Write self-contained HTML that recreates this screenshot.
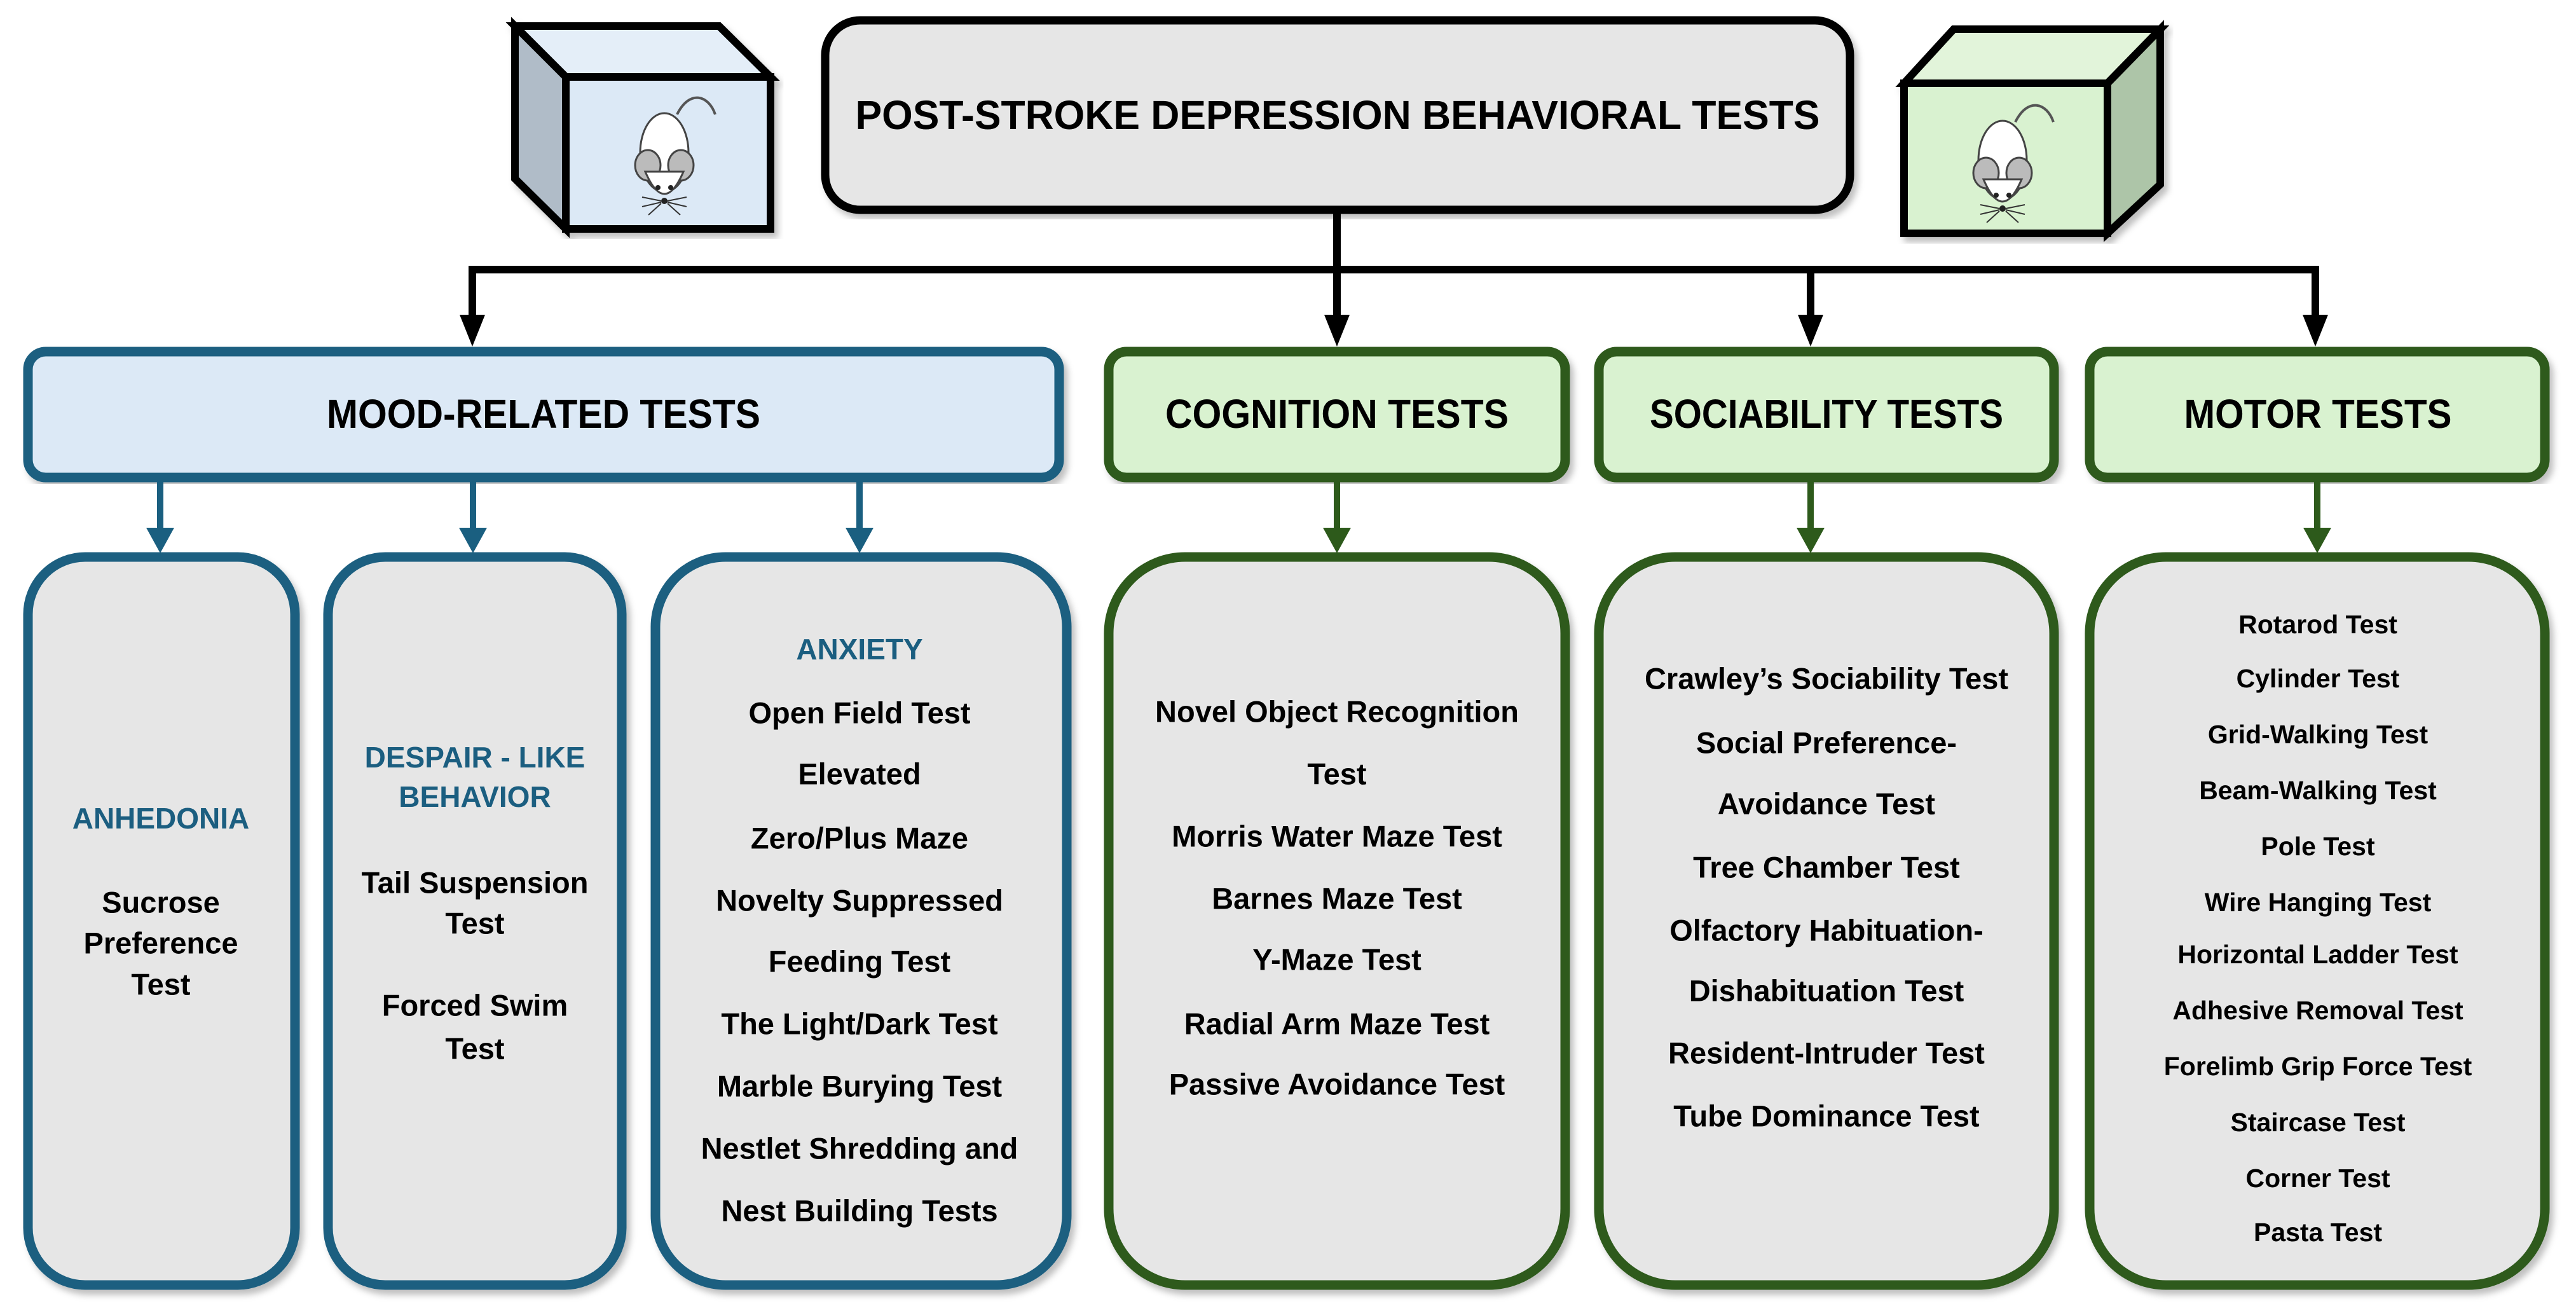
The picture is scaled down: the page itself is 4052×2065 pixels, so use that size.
<!DOCTYPE html>
<html><head><meta charset="utf-8"><style>
html,body{margin:0;padding:0;background:#fff;}
svg{display:block;}
text{font-family:"Liberation Sans",sans-serif;font-weight:bold;text-anchor:middle;dominant-baseline:central;}
.b{font-size:47px;fill:#000;}
.t{font-size:46px;fill:#1b5e80;}
.m{font-size:41px;fill:#000;}
.h{font-size:64px;fill:#000;}
</style></head><body>
<svg width="4052" height="2065" viewBox="0 0 4052 2065" xmlns="http://www.w3.org/2000/svg">
<defs>
<filter id="sh" x="-5%" y="-5%" width="110%" height="110%"><feDropShadow dx="6" dy="8" stdDeviation="5" flood-color="#000" flood-opacity="0.25"/></filter>
<g id="mouse">
 <path d="M20,-70 C40,-110 70,-100 80,-70" fill="none" stroke="#555" stroke-width="4"/>
 <ellipse cx="0" cy="-10" rx="38" ry="62" fill="#fff" stroke="#444" stroke-width="3"/>
 <ellipse cx="-26" cy="10" rx="20" ry="24" fill="#bbb" stroke="#444" stroke-width="3"/>
 <ellipse cx="26" cy="10" rx="20" ry="24" fill="#bbb" stroke="#444" stroke-width="3"/>
 <path d="M-30,20 Q0,90 30,20 Z" fill="#fff" stroke="#444" stroke-width="3"/>
 <circle cx="-10" cy="45" r="4" fill="#222"/><circle cx="10" cy="45" r="4" fill="#222"/>
 <circle cx="0" cy="66" r="5" fill="#222"/>
 <path d="M-5,66 L-35,60 M-5,68 L-35,75 M-5,70 L-25,88 M5,66 L35,60 M5,68 L35,75 M5,70 L25,88" stroke="#333" stroke-width="2" fill="none"/>
</g>
</defs>

<g filter="url(#sh)" stroke="#000" stroke-width="12" stroke-linejoin="miter">
 <polygon points="810,41 1131,41 1212,121 890,121" fill="#e4eef8"/>
 <polygon points="810,41 890,121 890,360 810,281" fill="#b0bcc8"/>
 <rect x="890" y="121" width="322" height="239" fill="#dce9f6"/>
</g>
<use href="#mouse" x="1045" y="250"/>

<g filter="url(#sh)" stroke="#000" stroke-width="12" stroke-linejoin="miter">
 <polygon points="3073,46 3398,46 3315,131 2995,131" fill="#e2f4da"/>
 <polygon points="3398,46 3398,290 3315,367 3315,131" fill="#adc5a8"/>
 <rect x="2995" y="131" width="320" height="236" fill="#d9f2d0"/>
</g>
<use href="#mouse" x="3150" y="262"/>

<rect x="1298" y="32" width="1612" height="298" rx="55" fill="#e6e6e6" stroke="#000" stroke-width="13" filter="url(#sh)"/>
<text class="h" x="2104" y="181" textLength="1517" lengthAdjust="spacingAndGlyphs">POST-STROKE DEPRESSION BEHAVIORAL TESTS</text>

<g stroke="#000" stroke-width="12" fill="none">
 <line x1="2103" y1="336" x2="2103" y2="500"/>
 <line x1="737" y1="424" x2="3648" y2="424"/>
 <line x1="743" y1="418" x2="743" y2="500"/>
 <line x1="2848" y1="424" x2="2848" y2="500"/>
 <line x1="3642" y1="418" x2="3642" y2="500"/>
</g>
<g fill="#000">
 <polygon points="723,495 763,495 743,545"/>
 <polygon points="2083,495 2123,495 2103,545"/>
 <polygon points="2828,495 2868,495 2848,545"/>
 <polygon points="3622,495 3662,495 3642,545"/>
</g>

<g stroke-width="15" filter="url(#sh)">
 <rect x="44" y="553" width="1622" height="198" rx="28" fill="#dce9f6" stroke="#1a5f80"/>
 <rect x="1744" y="553" width="718" height="198" rx="28" fill="#d9f2d0" stroke="#2d5a1b"/>
 <rect x="2515" y="553" width="716" height="198" rx="28" fill="#d9f2d0" stroke="#2d5a1b"/>
 <rect x="3287" y="553" width="716" height="198" rx="28" fill="#d9f2d0" stroke="#2d5a1b"/>
</g>
<text class="h" x="855" y="651" textLength="682" lengthAdjust="spacingAndGlyphs">MOOD-RELATED TESTS</text>
<text class="h" x="2103" y="651" textLength="540" lengthAdjust="spacingAndGlyphs">COGNITION TESTS</text>
<text class="h" x="2873" y="651" textLength="556" lengthAdjust="spacingAndGlyphs">SOCIABILITY TESTS</text>
<text class="h" x="3646" y="651" textLength="421" lengthAdjust="spacingAndGlyphs">MOTOR TESTS</text>

<g stroke-width="10">
 <line x1="252" y1="756" x2="252" y2="835" stroke="#1a5f80"/>
 <line x1="744" y1="756" x2="744" y2="835" stroke="#1a5f80"/>
 <line x1="1352" y1="756" x2="1352" y2="835" stroke="#1a5f80"/>
 <line x1="2103" y1="756" x2="2103" y2="835" stroke="#2d5a1b"/>
 <line x1="2848" y1="756" x2="2848" y2="835" stroke="#2d5a1b"/>
 <line x1="3645" y1="756" x2="3645" y2="835" stroke="#2d5a1b"/>
</g>
<g fill="#1a5f80">
 <polygon points="230,830 274,830 252,870"/>
 <polygon points="722,830 766,830 744,870"/>
 <polygon points="1330,830 1374,830 1352,870"/>
</g>
<g fill="#2d5a1b">
 <polygon points="2081,830 2125,830 2103,870"/>
 <polygon points="2826,830 2870,830 2848,870"/>
 <polygon points="3623,830 3667,830 3645,870"/>
</g>

<g stroke-width="15" fill="#e6e6e6" filter="url(#sh)">
 <rect x="44" y="876" width="420" height="1145" rx="90" stroke="#1a5f80"/>
 <rect x="516" y="876" width="462" height="1145" rx="90" stroke="#1a5f80"/>
 <rect x="1031" y="876" width="647" height="1145" rx="110" stroke="#1a5f80"/>
 <rect x="1744" y="876" width="718" height="1145" rx="120" stroke="#2d5a1b"/>
 <rect x="2515" y="876" width="716" height="1145" rx="120" stroke="#2d5a1b"/>
 <rect x="3287" y="876" width="716" height="1145" rx="120" stroke="#2d5a1b"/>
</g>

<text class="t" x="253" y="1287">ANHEDONIA</text>
<text class="b" x="253" y="1419">Sucrose</text>
<text class="b" x="253" y="1483">Preference</text>
<text class="b" x="253" y="1548">Test</text>

<text class="t" x="747" y="1191">DESPAIR - LIKE</text>
<text class="t" x="747" y="1253">BEHAVIOR</text>
<text class="b" x="747" y="1388">Tail Suspension</text>
<text class="b" x="747" y="1452">Test</text>
<text class="b" x="747" y="1581">Forced Swim</text>
<text class="b" x="747" y="1649">Test</text>

<text class="t" x="1352" y="1021">ANXIETY</text>
<text class="b" x="1352" y="1121">Open Field Test</text>
<text class="b" x="1352" y="1217">Elevated</text>
<text class="b" x="1352" y="1318">Zero/Plus Maze</text>
<text class="b" x="1352" y="1416">Novelty Suppressed</text>
<text class="b" x="1352" y="1512">Feeding Test</text>
<text class="b" x="1352" y="1610">The Light/Dark Test</text>
<text class="b" x="1352" y="1708">Marble Burying Test</text>
<text class="b" x="1352" y="1806">Nestlet Shredding and</text>
<text class="b" x="1352" y="1904">Nest Building Tests</text>

<text class="b" x="2103" y="1119">Novel Object Recognition</text>
<text class="b" x="2103" y="1217">Test</text>
<text class="b" x="2103" y="1315">Morris Water Maze Test</text>
<text class="b" x="2103" y="1413">Barnes Maze Test</text>
<text class="b" x="2103" y="1509">Y-Maze Test</text>
<text class="b" x="2103" y="1610">Radial Arm Maze Test</text>
<text class="b" x="2103" y="1705">Passive Avoidance Test</text>

<text class="b" x="2873" y="1067">Crawley’s Sociability Test</text>
<text class="b" x="2873" y="1168">Social Preference-</text>
<text class="b" x="2873" y="1264">Avoidance Test</text>
<text class="b" x="2873" y="1364">Tree Chamber Test</text>
<text class="b" x="2873" y="1463">Olfactory Habituation-</text>
<text class="b" x="2873" y="1558">Dishabituation Test</text>
<text class="b" x="2873" y="1656">Resident-Intruder Test</text>
<text class="b" x="2873" y="1755">Tube Dominance Test</text>

<text class="m" x="3646" y="982">Rotarod Test</text>
<text class="m" x="3646" y="1067">Cylinder Test</text>
<text class="m" x="3646" y="1155">Grid-Walking Test</text>
<text class="m" x="3646" y="1243">Beam-Walking Test</text>
<text class="m" x="3646" y="1331">Pole Test</text>
<text class="m" x="3646" y="1419">Wire Hanging Test</text>
<text class="m" x="3646" y="1501">Horizontal Ladder Test</text>
<text class="m" x="3646" y="1589">Adhesive Removal Test</text>
<text class="m" x="3646" y="1677">Forelimb Grip Force Test</text>
<text class="m" x="3646" y="1765">Staircase Test</text>
<text class="m" x="3646" y="1853">Corner Test</text>
<text class="m" x="3646" y="1938">Pasta Test</text>
</svg>
</body></html>
